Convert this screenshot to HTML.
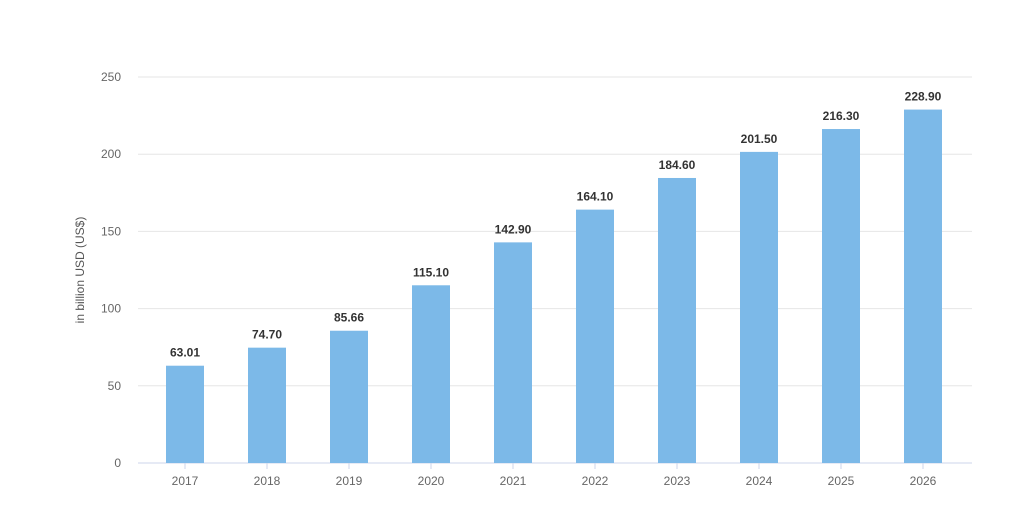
<!DOCTYPE html>
<html><head><meta charset="utf-8"><style>
body{margin:0;background:#fff;width:1024px;height:512px;overflow:hidden}
text{font-family:"Liberation Sans",sans-serif}
</style></head><body>
<svg id="chart" width="1024" height="512" xmlns="http://www.w3.org/2000/svg">
<text transform="translate(84,270) rotate(-90)" text-anchor="middle" font-size="12" fill="#555">in billion USD (US$)</text>
</svg>
<script>
const categories=["2017","2018","2019","2020","2021","2022","2023","2024","2025","2026"];
const values=[63.01,74.70,85.66,115.10,142.90,164.10,184.60,201.50,216.30,228.90];
const labels=["63.01","74.70","85.66","115.10","142.90","164.10","184.60","201.50","216.30","228.90"];
const yTicks=[0,50,100,150,200,250];
const svg=document.getElementById('chart');
const NS='http://www.w3.org/2000/svg';
const y0=463,ppu=386/250,left=138,right=972,c0=185,band=82,bw=38;
const yS=v=>y0-v*ppu, xS=i=>c0+i*band;
function mk(t,a){const e=document.createElementNS(NS,t);for(const k in a)e.setAttribute(k,a[k]);svg.appendChild(e);return e;}
yTicks.forEach(t=>{
 const g=mk('line',{x1:left,x2:right,y1:yS(t),y2:yS(t),stroke:t===0?'#ccd6eb':'#e6e6e6','stroke-width':1});
 
 
 const l=mk('text',{x:121,y:yS(t)+4,'text-anchor':'end','font-size':12,fill:'#666'});
 l.textContent=t;
 
 
});
categories.forEach((c,i)=>{
 const x=xS(i),v=values[i];
 const r=mk('rect',{x:x-bw/2,y:yS(v),width:bw,height:y0-yS(v),fill:'#7cb9e8'});
 
 
 const tk=mk('line',{x1:x,x2:x,y1:y0,y2:y0+6,stroke:'#ccd6eb'});
 
 
 const xl=mk('text',{x:x,y:485,'text-anchor':'middle','font-size':12,fill:'#666'});
 xl.textContent=c;
 
 
 const vl=mk('text',{x:x,y:yS(v)-9,'text-anchor':'middle','font-size':12,'font-weight':'bold',fill:'#333'});
 vl.textContent=labels[i];
 
 
});
</script>
</body></html>
